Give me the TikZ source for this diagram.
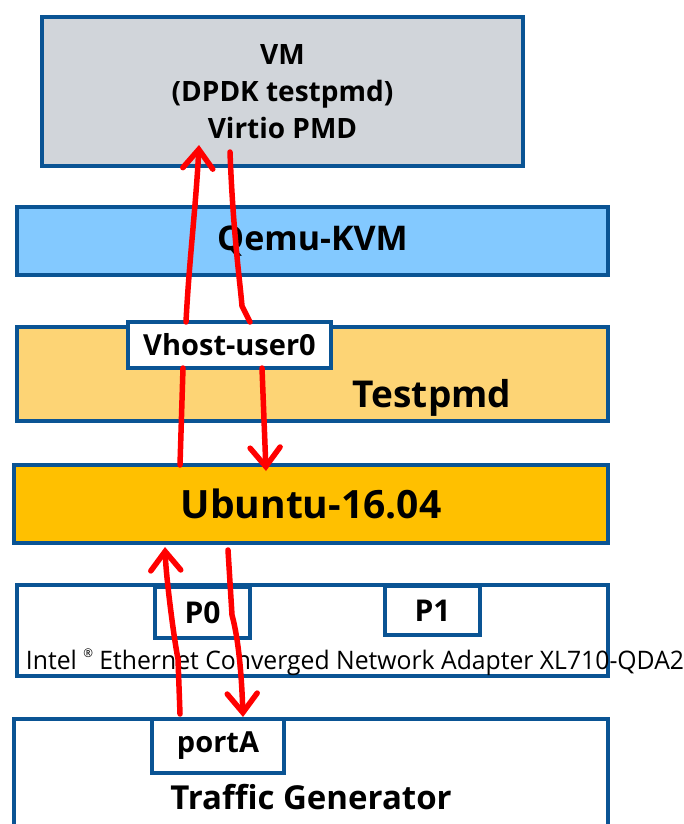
\documentclass[tikz,border=0pt]{standalone}
\usepackage{fontspec}
\setmainfont{Open Sans}
\usetikzlibrary{arrows.meta,calc}
\definecolor{bord}{RGB}{10,84,148}
\definecolor{vmgray}{RGB}{209,213,218}
\definecolor{qblue}{RGB}{131,201,255}
\definecolor{tpy}{RGB}{253,212,117}
\definecolor{ubu}{RGB}{255,192,0}
\definecolor{flow}{RGB}{255,0,0}
\begin{document}
\begin{tikzpicture}[x=1pt,y=-1pt,
  layer/.style={draw=bord,line width=4pt,rectangle,inner sep=0pt,outer sep=0pt,align=center,font=\bfseries},
  lbl/.style={inner sep=0pt,font=\bfseries},
  flowline/.style={draw=flow,line width=5.5pt,line cap=round},
  flowarrow/.style={flowline,-{Straight Barb[length=19pt,width=30pt,line cap=round]}}]
\useasboundingbox (0,0) rectangle (683,824);
\clip (0,0) rectangle (683,824);
% boxes
\node[layer,fill=vmgray,minimum width=481pt,minimum height=149pt,font=\bfseries\fontsize{28}{37}\selectfont] (vm) at (282.5,91.5) {VM\\(DPDK testpmd)\\Virtio PMD};
\node[layer,fill=qblue,minimum width=591pt,minimum height=68pt,font=\bfseries\fontsize{34}{40}\selectfont] (qemu) at (312.5,241) {Qemu-KVM};
\node[layer,fill=tpy,minimum width=591pt,minimum height=94pt] (testpmd) at (312.5,374) {};
\node[lbl,font=\bfseries\fontsize{37}{40}\selectfont] (testpmdtxt) at (432,398) {Testpmd};
\node[layer,fill=white,minimum width=203pt,minimum height=46pt,font=\bfseries\fontsize{29}{34}\selectfont] (vhost) at (229.5,345) {Vhost-user0};
\node[layer,fill=ubu,minimum width=594pt,minimum height=78pt,font=\bfseries\fontsize{39}{44}\selectfont] (ubuntu) at (311,504) {Ubuntu-16.04};
\node[layer,fill=white,minimum width=591pt,minimum height=91pt] (nic) at (312.5,630.5) {};
\node[layer,fill=white,minimum width=95pt,minimum height=51pt,font=\bfseries\fontsize{30}{34}\selectfont] (p0) at (202.5,612.5) {P0};
\node[layer,fill=white,minimum width=95pt,minimum height=49pt,font=\bfseries\fontsize{30}{34}\selectfont] (p1) at (432.5,610.5) {P1};
\node[lbl,font=\fontsize{25.5}{30}\selectfont] (nictxt) at (355,662) {\scalebox{0.97}[1]{Intel \raisebox{0.45em}{\fontsize{12}{12}\selectfont ®} Ethernet Converged Network Adapter XL710-QDA2}};
\node[layer,fill=white,minimum width=594pt,minimum height=140pt] (tg) at (311,789) {};
\node[layer,fill=white,minimum width=132pt,minimum height=54pt,font=\bfseries\fontsize{29}{34}\selectfont] (porta) at (218,746) {portA};
\node[lbl,font=\bfseries\fontsize{33}{38}\selectfont] (tgtxt) at (311,797) {Traffic Generator};
% flow end points
\coordinate (a1s) at ($(vhost.north west)+(58,0)$);
\coordinate (a1e) at ($(vm.south west)+(157,-21)$);
\coordinate (b1s) at ($(vm.south west)+(188,-14)$);
\coordinate (b1e) at ($(vhost.north west)+(122,0)$);
\coordinate (a2s) at ($(ubuntu.north west)+(166,0)$);
\coordinate (a2e) at ($(vhost.south west)+(55,0)$);
\coordinate (b2s) at ($(vhost.south west)+(134,0)$);
\coordinate (b2e) at ($(ubuntu.north west)+(252,6)$);
\coordinate (a3s) at ($(tg.north west)+(166,-5)$);
\coordinate (a3e) at ($(ubuntu.south west)+(151,4)$);
\coordinate (b3s) at ($(ubuntu.south west)+(214,7)$);
\coordinate (b3e) at ($(tg.north west)+(229,-2)$);
% flows
\draw[flowarrow] (a1s) .. controls ($(a1s)+(3,-60)$) and ($(a1e)+(-3,60)$) .. (a1e);
\draw[flowline] (b1s) .. controls ($(b1s)+(3,80)$) and ($(b1e)+(-10,-40)$) .. ($(b1e)+(-8,-16)$) .. controls ($(b1e)+(-4,-8)$) .. (b1e);
\draw[flowline] (a2s) -- (a2e);
\draw[flowarrow] (b2s) -- (b2e);
\draw[flowarrow] (a3s) -- ($(a3s)+(-2,-55)$) .. controls ($(a3s)+(-6,-75)$) and ($(a3e)+(1,30)$) .. (a3e);
\draw[flowarrow] (b3s) -- ($(b3s)+(4,65)$) .. controls ($(b3s)+(8,80)$) and ($(b3e)+(-2,-60)$) .. (b3e);
\end{tikzpicture}
\end{document}
